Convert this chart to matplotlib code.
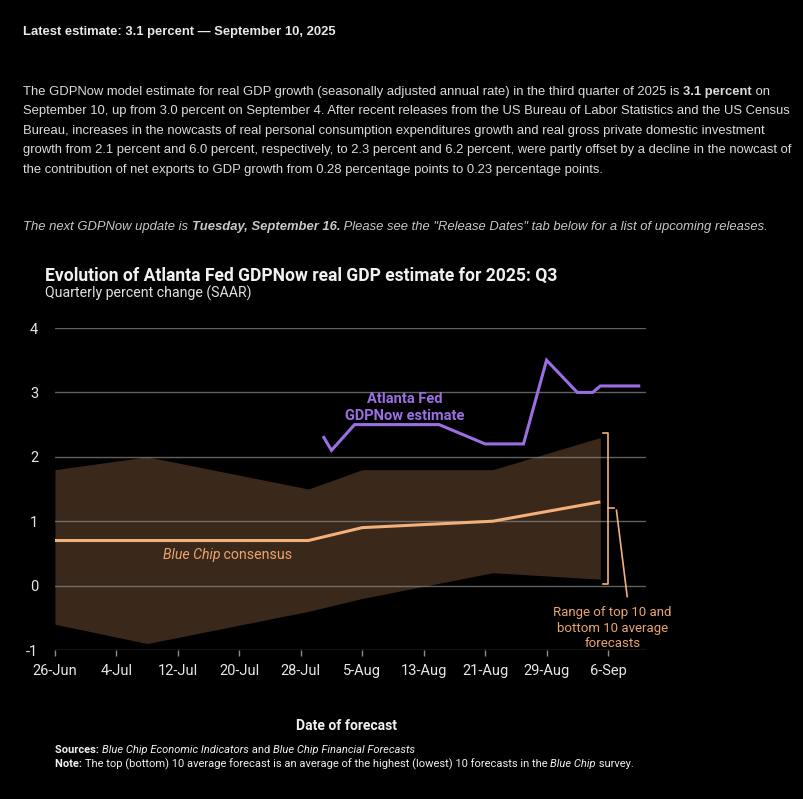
import matplotlib
matplotlib.use("Agg")
import matplotlib.pyplot as plt
import matplotlib.dates as mdates
import pandas as pd
import numpy as np

# ---------------- data ----------------
band_dates = ["2025-06-26", "2025-07-08", "2025-07-29", "2025-08-05", "2025-08-22", "2025-09-05"]
top10_avg = [1.8, 2.0, 1.5, 1.8, 1.8, 2.3]
bottom10_avg = [-0.6, -0.9, -0.4, -0.2, 0.2, 0.1]
consensus = [0.7, 0.7, 0.7, 0.9, 1.0, 1.3]

gdpnow_dates = ["2025-07-31", "2025-08-01", "2025-08-04", "2025-08-15", "2025-08-21",
                "2025-08-26", "2025-08-29", "2025-09-02", "2025-09-04", "2025-09-05", "2025-09-10"]
gdpnow = [2.3, 2.1, 2.5, 2.5, 2.2, 2.2, 3.5, 3.0, 3.0, 3.1, 3.1]

tick_dates = ["2025-06-26", "2025-07-04", "2025-07-12", "2025-07-20", "2025-07-28",
              "2025-08-05", "2025-08-13", "2025-08-21", "2025-08-29", "2025-09-06"]
y_ticks = [-1, 0, 1, 2, 3, 4]

# ---------------- style ----------------
BG = "#000000"
BAND = "#3a281b"
ORANGE = "#f2b07a"
ORANGE_TXT = "#e9a46f"
PURPLE = "#9b6fe3"
GRID = "#8a8a8a"
TXT = "#e6e6e6"
PLEX = ["Roboto", "DejaVu Sans"]
NARROW = ["Liberation Sans", "DejaVu Sans"]

W, H = 804, 799
fig = plt.figure(figsize=(W / 100, H / 100), dpi=100, facecolor=BG)

def fx(px):
    return px / W

def fy(py):
    return 1 - py / H

renderer = fig.canvas.get_renderer()

def rich(x_px, y_px, segments, size, family, color):
    x = x_px
    for txt, weight, style in segments:
        t = fig.text(fx(x), fy(y_px), txt, fontsize=size, family=family,
                     fontweight=weight, fontstyle=style, color=color,
                     va="baseline", ha="left")
        w = t.get_window_extent(renderer).width
        x += w

# ---------------- header text ----------------
HS = 9.35
rich(23, 35, [("Latest estimate: 3.1 percent \u2014 September 10, 2025", "bold", "normal")],
     HS, NARROW, "#e8e8e8")

para = [
    [("The GDPNow model estimate for real GDP growth (seasonally adjusted annual rate) in the third quarter of 2025 is ", "normal", "normal"),
     ("3.1 percent", "bold", "normal"), (" on", "normal", "normal")],
    [("September 10, up from 3.0 percent on September 4. After recent releases from the US Bureau of Labor Statistics and the US Census", "normal", "normal")],
    [("Bureau, increases in the nowcasts of real personal consumption expenditures growth and real gross private domestic investment", "normal", "normal")],
    [("growth from 2.1 percent and 6.0 percent, respectively, to 2.3 percent and 6.2 percent, were partly offset by a decline in the nowcast of", "normal", "normal")],
    [("the contribution of net exports to GDP growth from 0.28 percentage points to 0.23 percentage points.", "normal", "normal")],
]
for i, segs in enumerate(para):
    rich(23, 95 + i * 19.4, segs, HS, NARROW, "#dcdcdc")

rich(23, 230, [("The next GDPNow update is ", "normal", "italic"),
               ("Tuesday, September 16.", "bold", "italic"),
               (" Please see the \"Release Dates\" tab below for a list of upcoming releases.", "normal", "italic")],
     HS, NARROW, "#c8c8c8")

# ---------------- chart ----------------
bd = pd.to_datetime(band_dates)
gd = pd.to_datetime(gdpnow_dates)
td = pd.to_datetime(tick_dates)

ax = fig.add_axes([fx(55), fy(650), fx(646) - fx(55), fy(328) - fy(650)])
ax.set_facecolor(BG)

x0 = mdates.date2num(td[0])
per_day = (608 - 55) / 72.0
xmax = x0 + (646 - 55) / per_day
ax.set_xlim(x0, xmax)
ax.set_ylim(-1, 4)

ax.fill_between(bd, bottom10_avg, top10_avg, color=BAND, lw=0, zorder=1)
for yv in y_ticks:
    ax.axhline(yv, color=GRID, lw=1.0, alpha=0.7, zorder=2)
ax.plot(bd, consensus, color=ORANGE, lw=2.2, zorder=3, solid_capstyle="butt")
ax.plot(gd, gdpnow, color=PURPLE, lw=2.2, zorder=4, solid_joinstyle="miter")

for s in ax.spines.values():
    s.set_visible(False)
ax.set_xticks(mdates.date2num(td))
ax.set_xticklabels([f"{d.day}-{d.strftime('%b')}" for d in td])
ax.set_yticks(y_ticks)
ax.set_yticklabels([str(v) for v in y_ticks])
ax.tick_params(axis="x", length=4, width=1, color=GRID, pad=6, labelsize=10.5, labelcolor=TXT)
ax.tick_params(axis="y", length=0, pad=12, labelsize=10.5, labelcolor=TXT)
for lab in ax.get_xticklabels() + ax.get_yticklabels():
    lab.set_family(PLEX)

# bracket annotation for range
xe = mdates.date2num(bd[-1])
xb = xe + 1.0
top_b = top10_avg[-1] + 0.07
bot_b = bottom10_avg[-1] - 0.07
mid_b = (top_b + bot_b) / 2
hook = 0.6
ax.plot([xb - hook, xb, xb, xb - hook], [top_b, top_b, bot_b, bot_b], color=ORANGE, lw=1.2, zorder=5,
        clip_on=False)
ax.plot([xb, xb + 0.8], [mid_b, mid_b], color=ORANGE, lw=1.2, zorder=5, clip_on=False)
ax.plot([xb + 1.1, xb + 2.5], [mid_b - 0.03, -0.17], color=ORANGE, lw=1.2, zorder=5, clip_on=False)
ax.text(xb + 0.6, -0.66, "Range of top 10 and\nbottom 10 average\nforecasts", ha="center", va="center",
        fontsize=9.5, color=ORANGE_TXT, family=PLEX, linespacing=1.25)

# line labels
ax.text(mdates.date2num(pd.Timestamp("2025-08-10 12:00")), 2.77, "Atlanta Fed\nGDPNow estimate", ha="center",
        va="center", fontsize=10.5, color=PURPLE, fontweight="bold", family=PLEX, linespacing=1.3)

# Blue Chip consensus label (mixed style)
t1 = ax.text(mdates.date2num(pd.Timestamp("2025-07-10")), 0.42, "Blue Chip", ha="left", va="baseline",
             fontsize=10.2, color=ORANGE_TXT, fontstyle="italic", family=PLEX)
ax.annotate(" consensus", xy=(1, 0), xycoords=t1, xytext=(0, 0), textcoords="offset points",
            ha="left", va="bottom", fontsize=10.2, color=ORANGE_TXT, family=PLEX)

# titles
fig.text(fx(45), fy(281), "Evolution of Atlanta Fed GDPNow real GDP estimate for 2025: Q3",
         fontsize=12.65, fontweight="bold", color="#f0f0f0", family=PLEX, va="baseline")
fig.text(fx(45), fy(298), "Quarterly percent change (SAAR)", fontsize=10.2, color="#e0e0e0",
         family=PLEX, va="baseline")

fig.text(fx(347), fy(730), "Date of forecast", fontsize=10, fontweight="bold", color="#f0f0f0",
         family=PLEX, ha="center", va="baseline")

rich(55, 753, [("Sources: ", "bold", "normal"), ("Blue Chip Economic Indicators", "normal", "italic"),
               (" and ", "normal", "normal"), ("Blue Chip Financial Forecasts", "normal", "italic")],
     8.0, PLEX, "#f0f0f0")
rich(55, 767, [("Note: ", "bold", "normal"),
               ("The top (bottom) 10 average forecast is an average of the highest (lowest) 10 forecasts in the ", "normal", "normal"),
               ("Blue Chip", "normal", "italic"), (" survey.", "normal", "normal")],
     8.0, PLEX, "#f0f0f0")

fig.savefig("out.png", dpi=100, facecolor=BG)
